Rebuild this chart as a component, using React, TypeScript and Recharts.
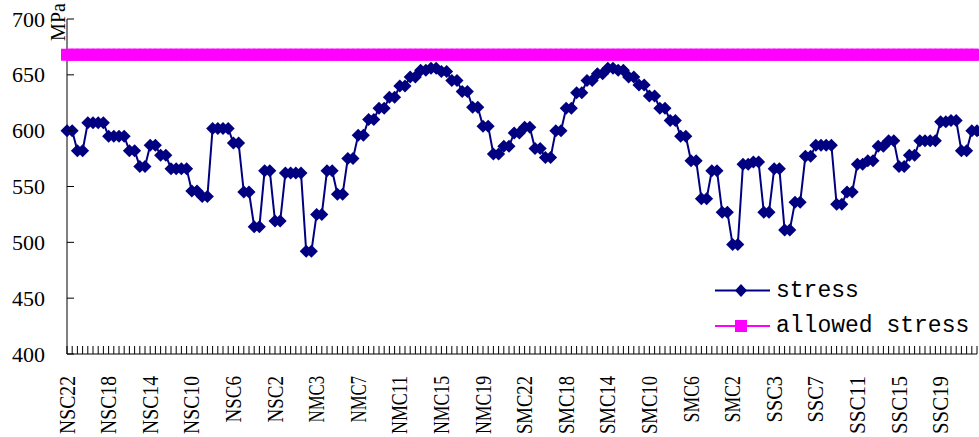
import React from 'react';
import { LineChart, Line, XAxis, YAxis, Legend } from 'recharts';

// element numbers along each of the four member groups (two points per element)
const nscNumbers = [22, 21, 20, 19, 18, 17, 16, 15, 14, 13, 12, 11, 10, 9, 8, 7, 6, 5, 4, 3, 2, 1];
const nmcNumbers = [1, 2, 3, 4, 5, 6, 7, 8, 9, 10, 11, 12, 13, 14, 15, 16, 17, 18, 19, 20, 21, 22];
const smcNumbers = [22, 21, 20, 19, 18, 17, 16, 15, 14, 13, 12, 11, 10, 9, 8, 7, 6, 5, 4, 3, 2, 1];
const sscNumbers = [1, 2, 3, 4, 5, 6, 7, 8, 9, 10, 11, 12, 13, 14, 15, 16, 17, 18, 19, 20, 21, 22];

// stress in MPa
const nscStress = [
  600, 600, 582, 582, 607, 607, 607, 607, 595, 595, 595, 595, 582, 582, 568, 568, 587, 587, 578, 578, 566, 566,
  566, 566, 546, 546, 541, 541, 602, 602, 602, 602, 589, 589, 545, 545, 514, 514, 564, 564, 519, 519, 562, 562,
];
const nmcStress = [
  562, 562, 492, 492, 525, 525, 564, 564, 543, 543, 575, 575, 596, 596, 610, 610, 620, 620, 630, 630, 640, 640,
  648, 648, 654, 654, 656, 656, 653, 653, 645, 645, 635, 635, 621, 621, 604, 604, 579, 579, 586, 586, 598, 598,
];
const smcStress = [
  603, 603, 584, 584, 576, 576, 600, 600, 620, 620, 634, 634, 645, 645, 651, 651, 656, 656, 654, 654, 648, 648,
  641, 641, 631, 631, 620, 620, 609, 609, 595, 595, 573, 573, 539, 539, 564, 564, 527, 527, 498, 498, 570, 570,
];
const sscStress = [
  572, 572, 527, 527, 566, 566, 511, 511, 536, 536, 577, 577, 587, 587, 587, 587, 534, 534, 545, 545, 570, 570,
  573, 573, 586, 586, 591, 591, 568, 568, 578, 578, 591, 591, 591, 591, 608, 608, 609, 609, 582, 582, 600, 600,
];
const allowedStress = 668;

const yTicks = [400, 450, 500, 550, 600, 650, 700];

const twice = (prefix: string, nums: number[]) => nums.flatMap((n) => [`${prefix}${n}`, `${prefix}${n}`]);
const labels = [
  ...twice('NSC', nscNumbers),
  ...twice('NMC', nmcNumbers),
  ...twice('SMC', smcNumbers),
  ...twice('SSC', sscNumbers),
];
const stress = [...nscStress, ...nmcStress, ...smcStress, ...sscStress];
const data = labels.map((name, i) => ({ name, stress: stress[i], allowed: allowedStress }));

const NAVY = '#000080';
const MAGENTA = '#FF00FF';
const SERIF = 'Liberation Serif, DejaVu Serif, serif';
const MONO = 'Liberation Mono, DejaVu Sans Mono, monospace';

const XTick = (props: any) => {
  const { x, y, payload } = props;
  const i = payload?.index ?? props.index;
  const ty = y + 22;
  const label = String(payload.value);
  return (
    <g>
      <line x1={x} y1={y} x2={x} y2={y - 8} stroke="#000" strokeWidth={1} />
      {i % 8 === 0 && (
        <text
          x={x}
          y={ty}
          transform={`rotate(-90 ${x} ${ty})`}
          textAnchor="end"
          dominantBaseline="central"
          fontSize={23}
          style={{ fontFamily: SERIF }}
          fill="#000"
          textLength={label.length * 11.6}
          lengthAdjust="spacingAndGlyphs"
        >
          {label}
        </text>
      )}
    </g>
  );
};

const YTick = (props: any) => {
  const { x, y, payload } = props;
  return (
    <g>
      <line x1={x} y1={y} x2={x + 7} y2={y} stroke="#000" strokeWidth={1} />
      <text
        x={x - 22}
        y={y}
        textAnchor="end"
        dominantBaseline="central"
        fontSize={22}
        style={{ fontFamily: SERIF }}
        fill="#000"
      >
        {payload.value}
      </text>
    </g>
  );
};

const Diamond = (props: any) => {
  const { cx, cy, index } = props;
  if (cx == null || cy == null) return <g key={`sd-${index}`} />;
  const r = 6.5;
  return <path key={`sd-${index}`} d={`M${cx},${cy - r}L${cx + r},${cy}L${cx},${cy + r}L${cx - r},${cy}Z`} fill={NAVY} />;
};

const Square = (props: any) => {
  const { cx, cy, index } = props;
  if (cx == null || cy == null) return <g key={`sq-${index}`} />;
  return <rect key={`sq-${index}`} x={cx - 6} y={cy - 6} width={12} height={12} fill={MAGENTA} />;
};

const LegendBox = () => (
  <svg width={275} height={75} style={{ display: 'block' }}>
    <line x1={7} y1={20.5} x2={62} y2={20.5} stroke={NAVY} strokeWidth={2} />
    <path d="M33,14L39,20.5L33,27L27,20.5Z" fill={NAVY} />
    <text x={68} y={20.5} dominantBaseline="central" fontSize={23} style={{ fontFamily: MONO }} fill="#000">
      stress
    </text>
    <line x1={7} y1={56} x2={62} y2={56} stroke={MAGENTA} strokeWidth={2} />
    <rect x={27} y={50} width={12} height={12} fill={MAGENTA} />
    <text x={68} y={56} dominantBaseline="central" fontSize={23} style={{ fontFamily: MONO }} fill="#000">
      allowed stress
    </text>
  </svg>
);

export default function App() {
  return (
    <div style={{ position: 'absolute', left: 0, top: 0, width: 979, height: 437 }}>
      <LineChart width={979} height={437} data={data} margin={{ top: 19, right: 2, bottom: 0, left: 0 }}>
        <XAxis
          dataKey="name"
          interval={0}
          height={83}
          tickSize={0}
          tickMargin={0}
          tickLine={false}
          tick={<XTick />}
          axisLine={{ stroke: '#000', strokeWidth: 1 }}
        />
        <YAxis
          domain={[400, 700]}
          ticks={yTicks}
          width={67}
          tickSize={0}
          tickMargin={0}
          tickLine={false}
          tick={<YTick />}
          axisLine={{ stroke: '#000', strokeWidth: 1 }}
          label={{
            content: () => (
              <text
                x={58}
                y={22}
                transform="rotate(-90 58 22)"
                textAnchor="middle"
                dominantBaseline="central"
                fontSize={20}
                style={{ fontFamily: SERIF }}
                fill="#000"
              >
                MPa
              </text>
            ),
          }}
        />
        <Legend
          layout="vertical"
          align="center"
          verticalAlign="middle"
          content={<LegendBox />}
          wrapperStyle={{ left: 708, top: 270, width: 275, height: 75 }}
        />
        <Line
          type="linear"
          dataKey="allowed"
          name="allowed stress"
          stroke={MAGENTA}
          strokeWidth={2}
          dot={Square}
          activeDot={false}
          isAnimationActive={false}
        />
        <Line
          type="linear"
          dataKey="stress"
          name="stress"
          stroke={NAVY}
          strokeWidth={2}
          dot={Diamond}
          activeDot={false}
          isAnimationActive={false}
        />
      </LineChart>
    </div>
  );
}
